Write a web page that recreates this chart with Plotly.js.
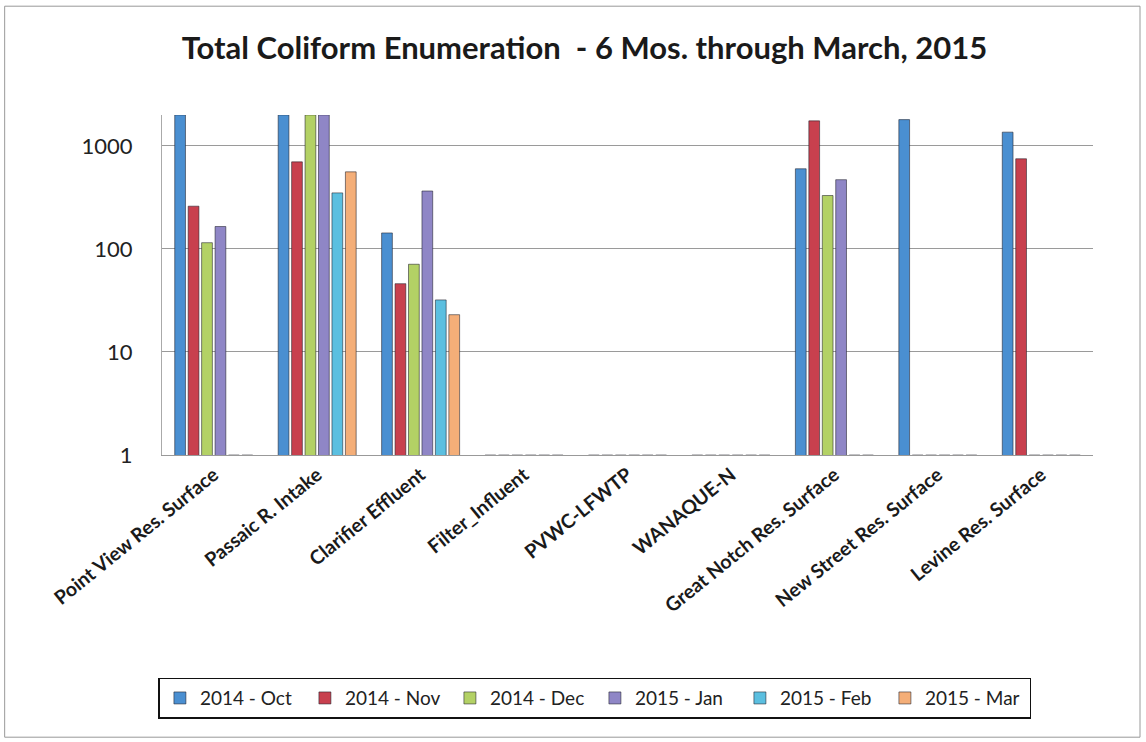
<!DOCTYPE html>
<html>
<head>
<meta charset="utf-8">
<script src="https://cdn.plot.ly/plotly-3.0.1.min.js"></script>
<style>
html,body{margin:0;padding:0;background:#fff;}
#chart{width:1146px;height:742px;}
</style>
</head>
<body>
<div id="chart"></div>
<script>
const categories = ["Point View Res. Surface","Passaic R. Intake","Clarifier Effluent","Filter_Influent","PVWC-LFWTP","WANAQUE-N","Great Notch Res. Surface","New Street Res. Surface","Levine Res. Surface"];
const seriesNames = ["2014 - Oct","2014 - Nov","2014 - Dec","2015 - Jan","2015 - Feb","2015 - Mar"];
const oct2014 = [2000, 2000, 143, 1, 1, 1, 600, 1800, 1360];
const nov2014 = [260, 700, 46, 1, 1, 1, 1750, 1, 750];
const dec2014 = [115, 2000, 71, 1, 1, 1, 330, 1, 1];
const jan2015 = [165, 2000, 365, 1, 1, 1, 470, 1, 1];
const feb2015 = [1, 350, 32, 1, 1, 1, 1, 1, 1];
const mar2015 = [1, 560, 23, 1, 1, 1, 1, 1, 1];
const yTickVals = [1, 10, 100, 1000];
const yTickText = ["1", "10", "100", "1000"];

const seriesValues = [oct2014, nov2014, dec2014, jan2015, feb2015, mar2015];
const colors = ["#4a8fd1", "#c8404e", "#b3d165", "#8f86c6", "#5bbfe0", "#f4ae78"];

const traces = seriesNames.map((name, i) => ({
  type: "bar",
  name: name,
  x: categories,
  y: seriesValues[i],
  marker: {color: colors[i], line: {color: "rgba(30,30,40,0.55)", width: 1}},
  hoverinfo: "x+y+name"
}));

const layout = {
  width: 1146,
  height: 742,
  margin: {l: 162, r: 53, t: 115, b: 287},
  paper_bgcolor: "#ffffff",
  plot_bgcolor: "#ffffff",
  font: {family: "Lato, 'Noto Sans', sans-serif", color: "#222"},
  title: {
    text: "Total Coliform Enumeration  - 6 Mos. through March, 2015",
    font: {size: 31, family: "Lato, 'Noto Sans', sans-serif", color: "#1a1a1a", weight: "bold"},
    x: 0.51, xanchor: "center", y: 0.935, yanchor: "middle"
  },
  barmode: "group",
  bargap: 0.22,
  bargroupgap: 0.2,
  xaxis: {
    type: "category",
    tickangle: -39,
    tickfont: {size: 19.5, color: "#1a1a1a", weight: "bold"},
    showline: true, linecolor: "#999", linewidth: 1,
    ticks: "", showgrid: false
  },
  yaxis: {
    type: "log",
    range: [0, 3.3],
    tickvals: yTickVals,
    ticktext: yTickText,
    tickfont: {size: 22, color: "#222"},
    showgrid: true, gridcolor: "#9a9a9a", gridwidth: 1,
    showline: true, linecolor: "#aaa", linewidth: 1,
    ticks: "", ticklabelstandoff: 24, zeroline: false
  },
  showlegend: true,
  legend: {
    orientation: "h",
    x: 0.465, xanchor: "center",
    y: -0.715, yanchor: "middle",
    bordercolor: "#111", borderwidth: 1.5,
    font: {size: 19, color: "#222"},
    entrywidth: 100, entrywidthmode: "pixels",
    itemwidth: 30, traceorder: "normal"
  },
  shapes: [{
    type: "rect", xref: "paper", yref: "paper",
    x0: -0.169, x1: 1.0505, y0: -0.83, y1: 1.32,
    line: {color: "#999", width: 1}, fillcolor: "rgba(0,0,0,0)", layer: "below"
  }]
};

Plotly.newPlot("chart", traces, layout, {displayModeBar: false, staticPlot: true});
</script>
</body>
</html>
